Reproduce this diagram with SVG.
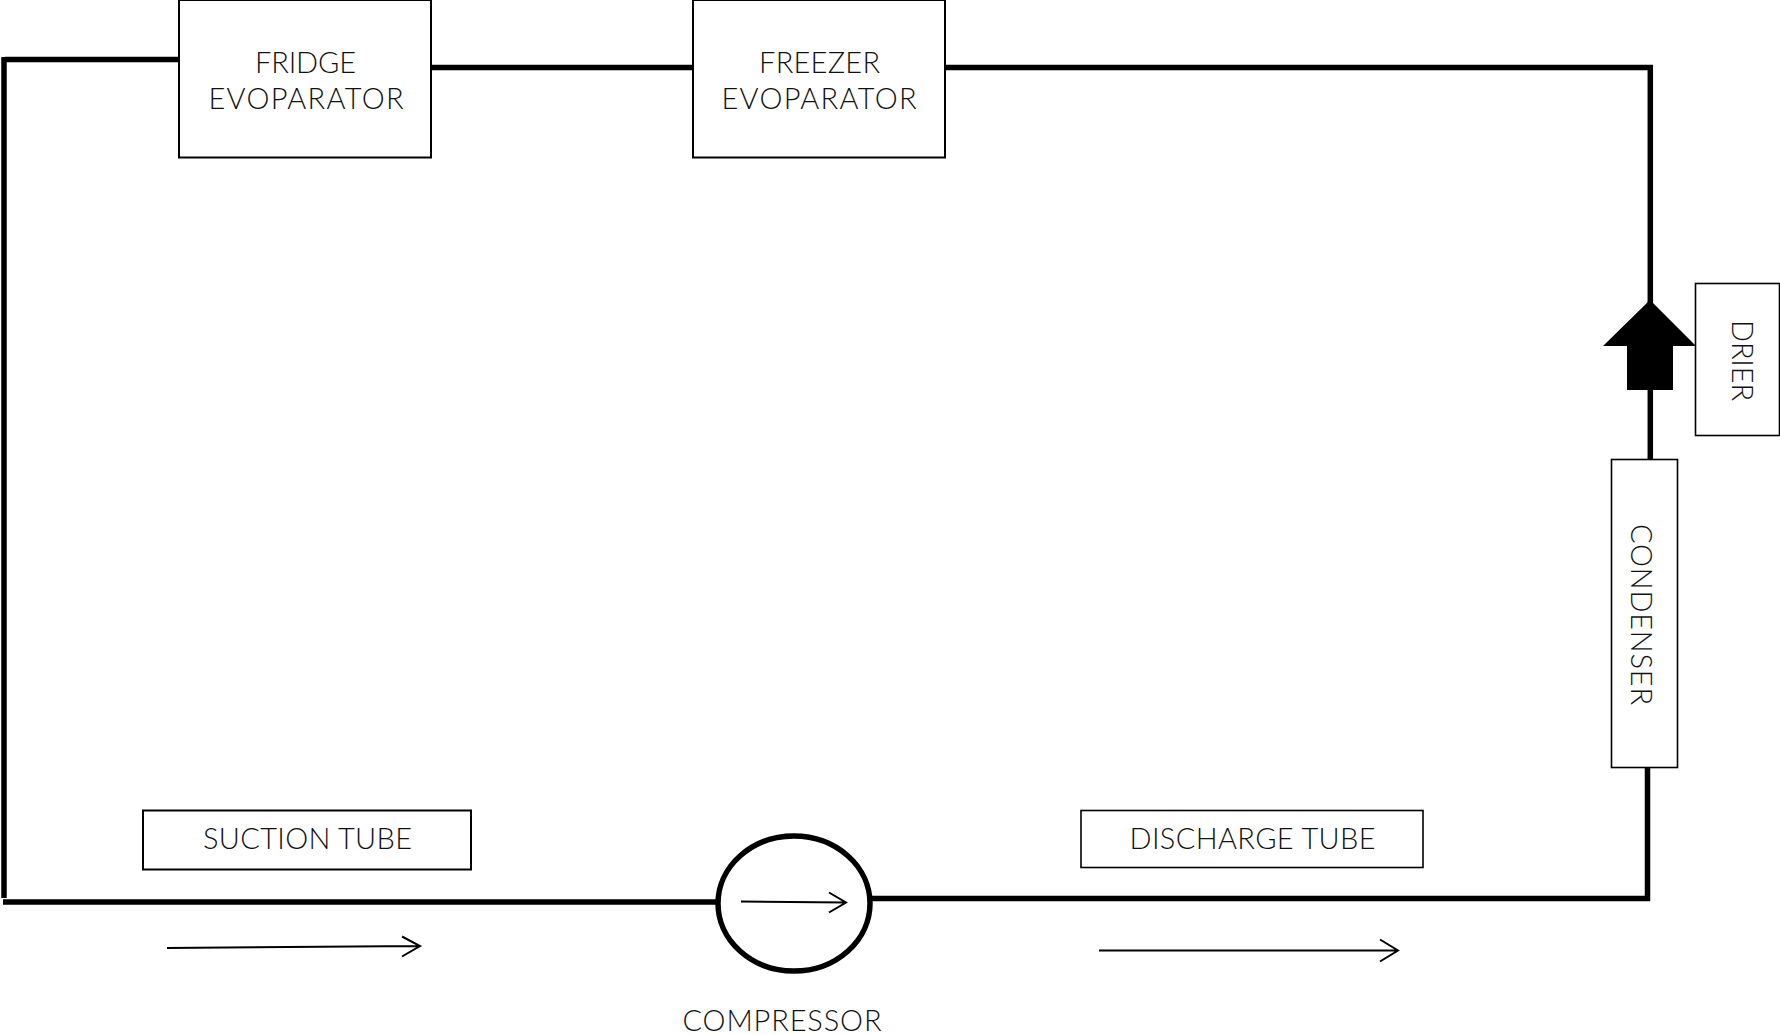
<svg xmlns="http://www.w3.org/2000/svg" width="1780" height="1035" viewBox="0 0 1780 1035">
<style>
.pipe{fill:none;stroke:#000;stroke-width:5.5}
.flow{fill:none;stroke:#000;stroke-width:2}
.box{fill:#fff;stroke:#000;stroke-width:2}
.thin{stroke-width:1.6}
text{font-family:"Lato","Liberation Sans",sans-serif;font-weight:300;font-size:29px;fill:#111;text-anchor:start}
</style>
<rect width="1780" height="1035" fill="#fff"/>
<g id="connectors">
<path class="pipe" d="M179 59.500H5M4 57V898"/>
<path class="pipe" d="M3 902H716"/>
<path class="pipe" d="M431 67.500H693"/>
<path class="pipe" d="M945 67.500H1650.300V459"/>
<path class="pipe" d="M1647.500 767V898.500H872"/>
<path d="M1650 300L1696 346H1673V390H1627V346H1603Z" fill="#000"/>
<path class="flow" d="M167 948L420 946M402 936.500L420 946L402 956.500"/>
<path class="flow" d="M741 901.500L846 902.500M829 892.500L846 902.500L829 912.500"/>
<path class="flow" d="M1099 950.500H1398M1380 939.500L1398 950.500L1380 961.500"/>
</g>
<g id="fridge-evaporator"><rect class="box" x="179" y="0" width="252" height="157.500"/>
<text x="255" y="73" textLength="101">FRIDGE</text><text x="208.500" y="108.500" textLength="195">EVOPARATOR</text></g>
<g id="freezer-evaporator"><rect class="box" x="693" y="0" width="252" height="157.500"/>
<text x="759" y="73" textLength="121">FREEZER</text><text x="721.500" y="108.500" textLength="195">EVOPARATOR</text></g>
<g id="drier"><rect class="box thin" x="1695.500" y="283.500" width="84" height="152"/>
<text transform="translate(1732 320) rotate(90)" textLength="81">DRIER</text></g>
<g id="condenser"><rect class="box thin" x="1611.500" y="459.500" width="66" height="308"/>
<text transform="translate(1631 524) rotate(90)" textLength="181">CONDENSER</text></g>
<g id="suction-tube"><rect class="box" x="143" y="810.500" width="328" height="59"/>
<text x="203" y="848.500" textLength="209">SUCTION TUBE</text></g>
<g id="discharge-tube"><rect class="box thin" x="1081" y="810.500" width="342" height="57"/>
<text x="1129.500" y="848.500" textLength="246">DISCHARGE TUBE</text></g>
<g id="compressor"><ellipse cx="794" cy="903.500" rx="76" ry="67.500" fill="none" stroke="#000" stroke-width="5.500"/>
<text x="682.500" y="1030.500" textLength="199">COMPRESSOR</text></g>
</svg>
